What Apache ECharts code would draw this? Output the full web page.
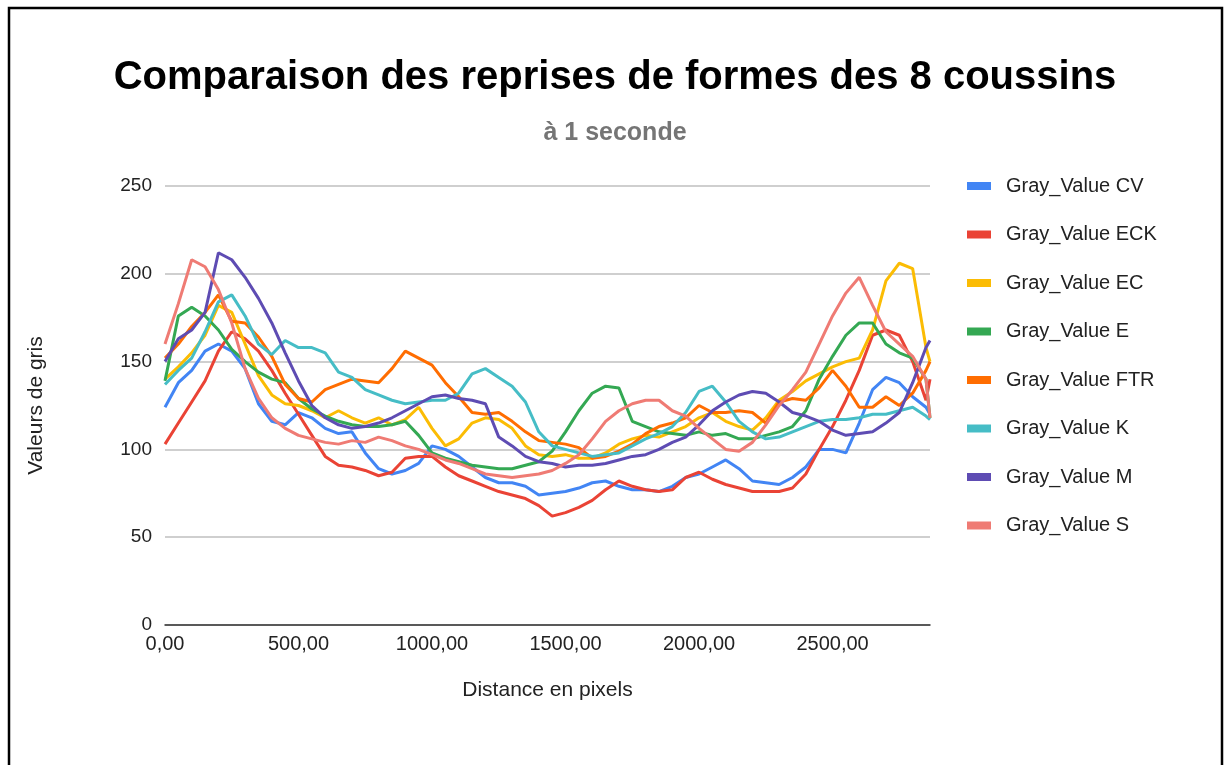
<!DOCTYPE html>
<html>
<head>
<meta charset="utf-8">
<script src="https://cdn.jsdelivr.net/npm/echarts@6/dist/echarts.min.js"></script>
<style>
html,body{margin:0;padding:0;background:#fff;}
#chart{width:1230px;height:765px;}
</style>
</head>
<body>
<div id="chart"></div>
<script>
// Distance en pixels (x positions of samples)
const distances = [0,50,100,150,200,250,300,350,400,450,500,550,600,650,700,750,800,850,900,950,
  1000,1050,1100,1150,1200,1250,1300,1350,1400,1450,1500,1550,1600,1650,1700,1750,1800,1850,1900,1950,
  2000,2050,2100,2150,2200,2250,2300,2350,2400,2450,2500,2550,2600,2650,2700,2750,2800,2850,2865];

const seriesNames = ['Gray_Value CV','Gray_Value ECK','Gray_Value EC','Gray_Value E','Gray_Value FTR','Gray_Value K','Gray_Value M','Gray_Value S'];

const grayCV = [124,138,145,156,160,156,146,126,116,114,121,118,112,109,110,98,89,86,88,92,
  102,100,96,90,84,81,81,79,74,75,76,78,81,82,79,77,77,76,79,84,
  86,90,94,89,82,81,80,84,90,100,100,98,115,134,141,138,130,124,120];
const grayECK = [103,115,127,139,156,167,163,156,145,132,120,108,96,91,90,88,85,87,95,96,
  96,90,85,82,79,76,74,72,68,62,64,67,71,77,82,79,77,76,77,84,
  87,83,80,78,76,76,76,78,86,100,113,128,145,165,168,165,150,128,140];
const grayEC = [140,147,155,165,182,178,160,142,131,126,125,122,118,122,118,115,118,114,117,124,
  112,102,106,115,118,117,112,102,97,96,97,95,95,98,103,106,108,107,110,113,
  118,121,116,113,111,118,128,133,139,143,147,150,152,168,196,206,203,158,150];
const grayE = [139,176,181,176,168,157,150,144,140,138,129,123,119,116,114,113,113,114,116,108,
  98,95,93,91,90,89,89,91,93,99,110,122,132,136,135,116,113,110,109,108,
  110,108,109,106,106,108,110,113,122,140,153,165,172,172,160,155,152,140,118];
const grayFTR = [152,160,170,178,188,173,172,164,153,137,129,127,134,137,140,139,138,146,156,152,
  148,138,130,121,120,121,116,110,105,104,103,101,95,96,99,103,109,113,115,118,
  125,121,121,122,121,115,127,129,128,135,145,136,124,124,130,125,132,145,150];
const grayK = [137,145,152,167,184,188,176,160,154,162,158,158,155,144,141,134,131,128,126,127,
  128,128,132,143,146,141,136,127,110,102,100,98,96,97,98,102,106,109,113,121,
  133,136,127,116,110,106,107,110,113,116,117,117,118,120,120,122,124,119,117];
const grayM = [150,163,168,178,212,208,198,186,172,155,139,125,118,114,112,113,115,118,122,126,
  130,131,129,128,126,107,102,96,93,92,90,91,91,92,94,96,97,100,104,107,
  114,122,127,131,133,132,127,121,119,116,111,108,109,110,115,121,138,158,162];
const grayS = [160,183,208,204,191,172,146,129,118,112,108,106,104,103,105,104,107,105,102,100,
  97,94,92,89,86,85,84,85,86,88,92,97,106,116,122,126,128,128,122,119,
  112,106,100,99,104,114,125,134,144,160,176,189,198,182,167,160,153,140,118];

const yTicks = [0,50,100,150,200,250];
const colors = ['#4285f4','#ea4335','#fbbc04','#34a853','#ff6d01','#46bdc6','#5e4cb3','#ef7b74'];

const allValues = [grayCV, grayECK, grayEC, grayE, grayFTR, grayK, grayM, grayS];
const FONT = '"Liberation Sans", Arial, sans-serif';

const chart = echarts.init(document.getElementById('chart'), null, {renderer: 'canvas'});
chart.setOption({
  animation: false,
  backgroundColor: '#ffffff',
  color: colors,
  title: [
    {text: 'Comparaison des reprises de formes des 8 coussins', left: 'center', top: 53,
     textStyle: {fontFamily: FONT, fontSize: 40, fontWeight: 'bold', color: '#000'}},
    {text: 'à 1 seconde', left: 'center', top: 116,
     textStyle: {fontFamily: FONT, fontSize: 25, fontWeight: 'bold', color: '#757575'}}
  ],
  legend: {
    orient: 'vertical', left: 962, top: 171, itemGap: 28.5,
    icon: 'rect', itemWidth: 24, itemHeight: 8,
    textStyle: {fontFamily: FONT, fontSize: 20, color: '#222', padding: [0,0,0,10]},
    data: seriesNames
  },
  grid: {left: 165, right: 300, top: 186, bottom: 140, containLabel: false},
  xAxis: {
    type: 'value', min: 0, max: 2865, interval: 500,
    name: 'Distance en pixels', nameLocation: 'middle', nameGap: 55,
    nameTextStyle: {fontFamily: FONT, fontSize: 21, color: '#222'},
    axisLine: {show: true, lineStyle: {color: '#333', width: 1.5}},
    axisTick: {show: false},
    splitLine: {show: false},
    axisLabel: {fontFamily: FONT, fontSize: 20, color: '#222', margin: 9,
      formatter: v => (v % 500 === 0 ? v.toFixed(2).replace('.', ',') : '')}
  },
  yAxis: {
    type: 'value', min: yTicks[0], max: yTicks[yTicks.length-1], interval: 50,
    name: 'Valeurs de gris', nameLocation: 'middle', nameGap: 118, nameRotate: 90,
    nameTextStyle: {fontFamily: FONT, fontSize: 21, color: '#222'},
    axisLine: {show: false}, axisTick: {show: false},
    splitLine: {lineStyle: {color: '#cfcfcf', width: 2}},
    axisLabel: {fontFamily: FONT, fontSize: 19, color: '#222', margin: 13}
  },
  series: seriesNames.map((name, i) => ({
    name, type: 'line', showSymbol: false, symbol: 'none',
    lineStyle: {width: 3, color: colors[i]},
    itemStyle: {color: colors[i]},
    data: distances.map((d, j) => [d, allValues[i][j]])
  })),
  graphic: [{
    type: 'polyline', silent: true,
    shape: {points: [[9, 765], [9, 8], [1222, 8], [1222, 765]]},
    style: {stroke: '#000', lineWidth: 2.5, fill: null}
  }]
});
</script>
</body>
</html>
